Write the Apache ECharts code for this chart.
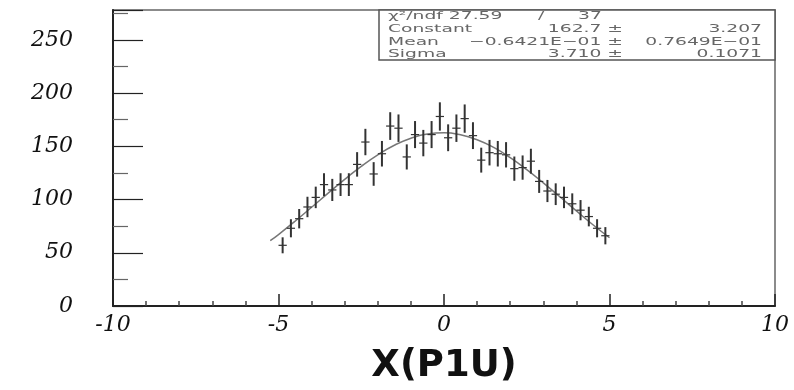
<!DOCTYPE html>
<html>
<head>
<meta charset="utf-8">
<script src="https://cdn.jsdelivr.net/npm/echarts@6/dist/echarts.min.js"></script>
<style>
  html, body { margin: 0; padding: 0; background: #fff; }
  #chart { width: 794px; height: 390px; }
</style>
</head>
<body>
<div id="chart"></div>
<script>
// histogram X(P1U): 40 bins of 0.25 from -5 to 5
const binLow = -5;
const binWidth = 0.25;
const counts = [57, 73, 82, 93, 102, 114, 109, 114, 114, 133,
  154, 124, 143, 169, 167, 140, 161, 153, 161, 178,
  158, 167, 176, 160, 137, 144, 143, 142, 129, 130,
  136, 117, 108, 105, 102, 96, 90, 84, 73, 66];
const errors = [7.5, 8.5, 9.1, 9.6, 10.1, 10.7, 10.4, 10.7, 10.7, 11.5,
  12.4, 11.1, 12.0, 13.0, 12.9, 11.8, 12.7, 12.4, 12.7, 13.3,
  12.6, 12.9, 13.3, 12.6, 11.7, 12.0, 12.0, 11.9, 11.4, 11.4,
  11.7, 10.8, 10.4, 10.2, 10.1, 9.8, 9.5, 9.2, 8.5, 8.1];

// fitted gaussian
const fitX = [-5.25, -5, -4.5, -4, -3.5, -3, -2.5, -2, -1.5, -1, -0.5, 0,
  0.5, 1, 1.5, 2, 2.5, 3, 3.5, 4, 4.5, 5];
const fitY = [61.3, 67.1, 79.6, 92.7, 106.0, 119.0, 131.2, 142.0, 151.0, 157.6, 161.6, 162.7,
  160.8, 156.1, 148.9, 139.4, 128.1, 115.7, 102.6, 89.3, 76.3, 64.1];

const statLabels = ['Constant', 'Mean', 'Sigma'];
const statValues = ['162.7', '\u22120.6421E\u221201', '3.710'];
const statErrors = ['3.207', '0.7649E\u221201', '0.1071'];
const chiText = '\u03c7\u00b2/ndf 27.59';
const ndfText = '37';

const xTicks = [-10, -5, 0, 5, 10];

const histData = counts.map((c, i) => [binLow + binWidth * (i + 0.5), c, errors[i]]);
const fitData = fitX.map((x, i) => [x, fitY[i]]);

const myChart = echarts.init(document.getElementById('chart'));

const labelFont = {
  fontFamily: 'DejaVu Serif',
  fontStyle: 'italic',
  fontSize: 22,
  color: '#111'
};

// stats box texts (stretched sideways like the old PAW output)
const statText = [];
const rowY = [16, 29, 42, 54];
const addText = (txt, x, y, align) => {
  statText.push({
    type: 'text', x: x, y: y, z: 11, scaleX: 1.7,
    style: {
      text: txt, textAlign: align, textVerticalAlign: 'middle',
      fontFamily: 'DejaVu Sans', fontSize: 11, fill: '#666'
    }
  });
};
addText(chiText, 388, rowY[0], 'left');
addText('/', 538, rowY[0], 'left');
addText(ndfText, 578, rowY[0], 'left');
statLabels.forEach((lab, i) => {
  addText(lab, 388, rowY[i + 1], 'left');
  addText(statValues[i] + ' \u00b1', 623, rowY[i + 1], 'right');
  addText(statErrors[i], 762, rowY[i + 1], 'right');
});

const option = {
  animation: false,
  backgroundColor: '#fff',
  grid: {
    left: 113, right: 19, top: 10, bottom: 65,
    show: true, borderColor: '#666', borderWidth: 1.5
  },
  xAxis: {
    type: 'value',
    min: -10, max: 10, interval: 5,
    name: 'X(P1U)',
    nameLocation: 'middle',
    nameGap: 42,
    nameTextStyle: { fontFamily: 'DejaVu Sans', fontWeight: 'bold', fontSize: 37, color: '#111' },
    axisLine: { onZero: false, lineStyle: { color: '#222', width: 2 } },
    axisTick: { inside: true, length: 12, lineStyle: { color: '#222', width: 1.5 } },
    minorTick: { show: true, splitNumber: 5, length: 5, lineStyle: { color: '#444', width: 1.5 } },
    splitLine: { show: false },
    axisLabel: Object.assign({ margin: 8, formatter: v => (xTicks.includes(v) ? String(v) : '') }, labelFont)
  },
  yAxis: {
    type: 'value',
    min: 0, max: 278, interval: 50,
    axisLine: { show: true, onZero: false, lineStyle: { color: '#222', width: 2 } },
    axisTick: { show: true, inside: true, length: 30, lineStyle: { color: '#222', width: 1.2 } },
    minorTick: { show: true, splitNumber: 2, length: 15, lineStyle: { color: '#666', width: 1.2 } },
    splitLine: { show: false },
    axisLabel: Object.assign({ margin: 40, showMaxLabel: false }, labelFont)
  },
  series: [
    {
      type: 'line',
      data: fitData,
      smooth: true,
      symbol: 'none',
      lineStyle: { color: '#777', width: 1.5 },
      z: 2
    },
    {
      type: 'custom',
      data: histData,
      z: 3,
      renderItem: (params, api) => {
        const x = api.value(0);
        const y = api.value(1);
        const e = api.value(2);
        const c = api.coord([x, y]);
        const lo = api.coord([x, y - e]);
        const hi = api.coord([x, y + e]);
        const w = api.size([binWidth, 0])[0];
        return {
          type: 'group',
          children: [
            { type: 'line', shape: { x1: c[0], y1: hi[1], x2: c[0], y2: lo[1] }, style: { stroke: '#333', lineWidth: 2 } },
            { type: 'line', shape: { x1: c[0] - w / 2, y1: c[1], x2: c[0] + w / 2, y2: c[1] }, style: { stroke: '#333', lineWidth: 1.2 } }
          ]
        };
      }
    }
  ],
  graphic: [
    {
      type: 'rect',
      shape: { x: 379, y: 10, width: 396, height: 50 },
      style: { fill: '#fff', stroke: '#555', lineWidth: 1.5 },
      z: 10
    }
  ].concat(statText)
};

myChart.setOption(option);
</script>
</body>
</html>
